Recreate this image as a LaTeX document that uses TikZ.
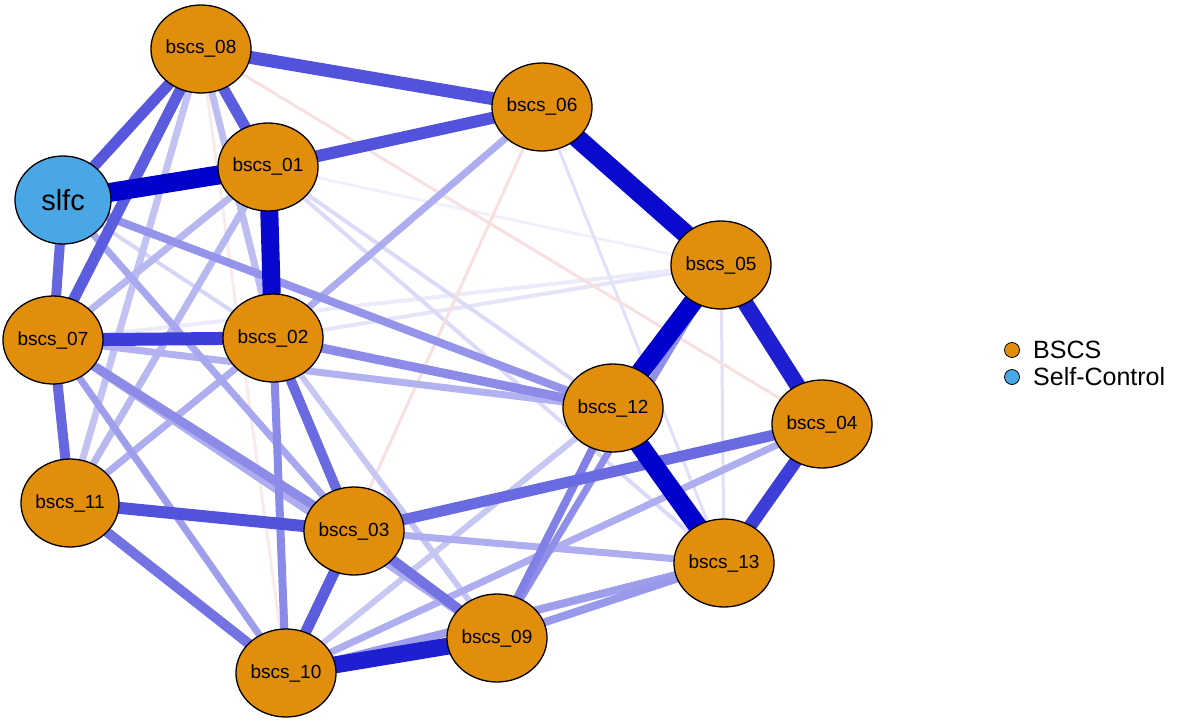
\documentclass[tikz,border=0pt]{standalone}
\usepackage{fontspec}
\setmainfont{Liberation Sans}
\usetikzlibrary{shapes.geometric}
\pgfdeclarelayer{bg}
\pgfsetlayers{bg,main}
\definecolor{eb}{HTML}{0000CC}
\definecolor{er}{HTML}{D03030}
\definecolor{nodeor}{HTML}{E08E0B}
\definecolor{nodebl}{HTML}{4AA7E6}
\tikzset{
  var/.style={ellipse, draw=black, line width=1.3pt, fill=nodeor, minimum width=96pt, minimum height=88pt, inner sep=0pt, font=\fontsize{19}{19}\selectfont},
  slfcnode/.style={var, fill=nodebl, font=\fontsize{29}{29}\selectfont},
  legdot/.style={circle, draw=black, line width=0.8pt, minimum size=15pt, inner sep=0pt},
  legtext/.style={anchor=west, inner sep=0pt, font=\fontsize{25}{25}\selectfont}
}
\newcommand{\posedge}[4]{\draw[line width=#3pt, draw=eb!#4!white] (#1.center) -- (#2.center);}
\newcommand{\negedge}[4]{\draw[line width=#3pt, draw=er!#4!white] (#1.center) -- (#2.center);}
\begin{document}
\begin{tikzpicture}[x=1pt,y=-1pt]
\useasboundingbox (0,0) rectangle (1181,723);
\node[var] (n08) at (201,49) {bscs\_08};
\node[var] (n06) at (542,107) {bscs\_06};
\node[var] (n01) at (268,167) {bscs\_01};
\node[slfcnode] (sl) at (63,200) {slfc};
\node[var] (n05) at (721,265) {bscs\_05};
\node[var] (n07) at (53,340) {bscs\_07};
\node[var] (n02) at (273,338) {bscs\_02};
\node[var] (n12) at (613,408) {bscs\_12};
\node[var] (n04) at (822,424) {bscs\_04};
\node[var] (n11) at (70,503) {bscs\_11};
\node[var] (n03) at (354,531) {bscs\_03};
\node[var] (n13) at (724,563) {bscs\_13};
\node[var] (n09) at (497,638) {bscs\_09};
\node[var] (n10) at (286,673) {bscs\_10};
\node[legdot, fill=nodeor] (l1) at (1012,350) {};
\node[legdot, fill=nodebl] (l2) at (1012,377) {};
\node[legtext] (t1) at (1033,350) {BSCS};
\node[legtext] (t2) at (1033,377) {Self-Control};
\begin{pgfonlayer}{bg}
% faint
\posedge{n01}{n05}{3}{6}
\posedge{n02}{n05}{4}{10}
\posedge{n07}{n05}{4}{8}
\posedge{n05}{n13}{3}{12}
\posedge{n06}{n13}{3}{12}
\posedge{n01}{n12}{4}{14}
\posedge{n01}{n13}{4}{14}
\posedge{sl}{n02}{4}{16}
\negedge{n08}{n04}{3}{15}
\negedge{n06}{n10}{3}{15}
\negedge{n08}{n10}{3}{10}
% light
\posedge{n10}{n12}{6}{22}
\posedge{n02}{n09}{6}{22}
\posedge{n08}{n11}{7}{24}
\posedge{n08}{n02}{7}{26}
\posedge{n01}{n07}{7}{28}
\posedge{n01}{n11}{7}{28}
\posedge{n07}{n12}{7}{30}
\posedge{n02}{n06}{7}{32}
\posedge{n11}{n02}{7}{32}
\posedge{sl}{n03}{7}{34}
\posedge{n07}{n09}{7}{32}
\posedge{n10}{n04}{7}{32}
\posedge{n03}{n13}{7}{32}
\posedge{n07}{n10}{7}{38}
\posedge{n10}{n13}{8}{38}
\posedge{n09}{n13}{8}{40}
\posedge{n05}{n09}{7}{44}
% medium
\posedge{sl}{n12}{8}{42}
\posedge{n02}{n12}{9}{45}
\posedge{n07}{n03}{9}{45}
\posedge{n02}{n10}{8}{46}
\posedge{n12}{n09}{8}{50}
\posedge{n03}{n09}{10}{55}
\posedge{n11}{n10}{10}{55}
\posedge{n02}{n03}{10}{58}
\posedge{n03}{n04}{11}{58}
\posedge{sl}{n07}{10}{60}
\posedge{n07}{n11}{10}{60}
\posedge{n03}{n10}{11}{64}
\posedge{n08}{sl}{11}{66}
\posedge{n08}{n07}{11}{64}
\posedge{n08}{n01}{11}{64}
\posedge{n11}{n03}{12}{68}
\posedge{n01}{n06}{12}{68}
\posedge{n08}{n06}{13}{68}
\posedge{n07}{n02}{13}{76}
\posedge{n04}{n13}{13}{76}
% strong
\posedge{n05}{n04}{16}{88}
\posedge{n10}{n09}{17}{88}
\posedge{n01}{n02}{18}{97}
\posedge{n06}{n05}{19}{96}
\posedge{sl}{n01}{19}{100}
\posedge{n05}{n12}{19}{100}
\posedge{n12}{n13}{19}{100}
\end{pgfonlayer}
\end{tikzpicture}
\end{document}
